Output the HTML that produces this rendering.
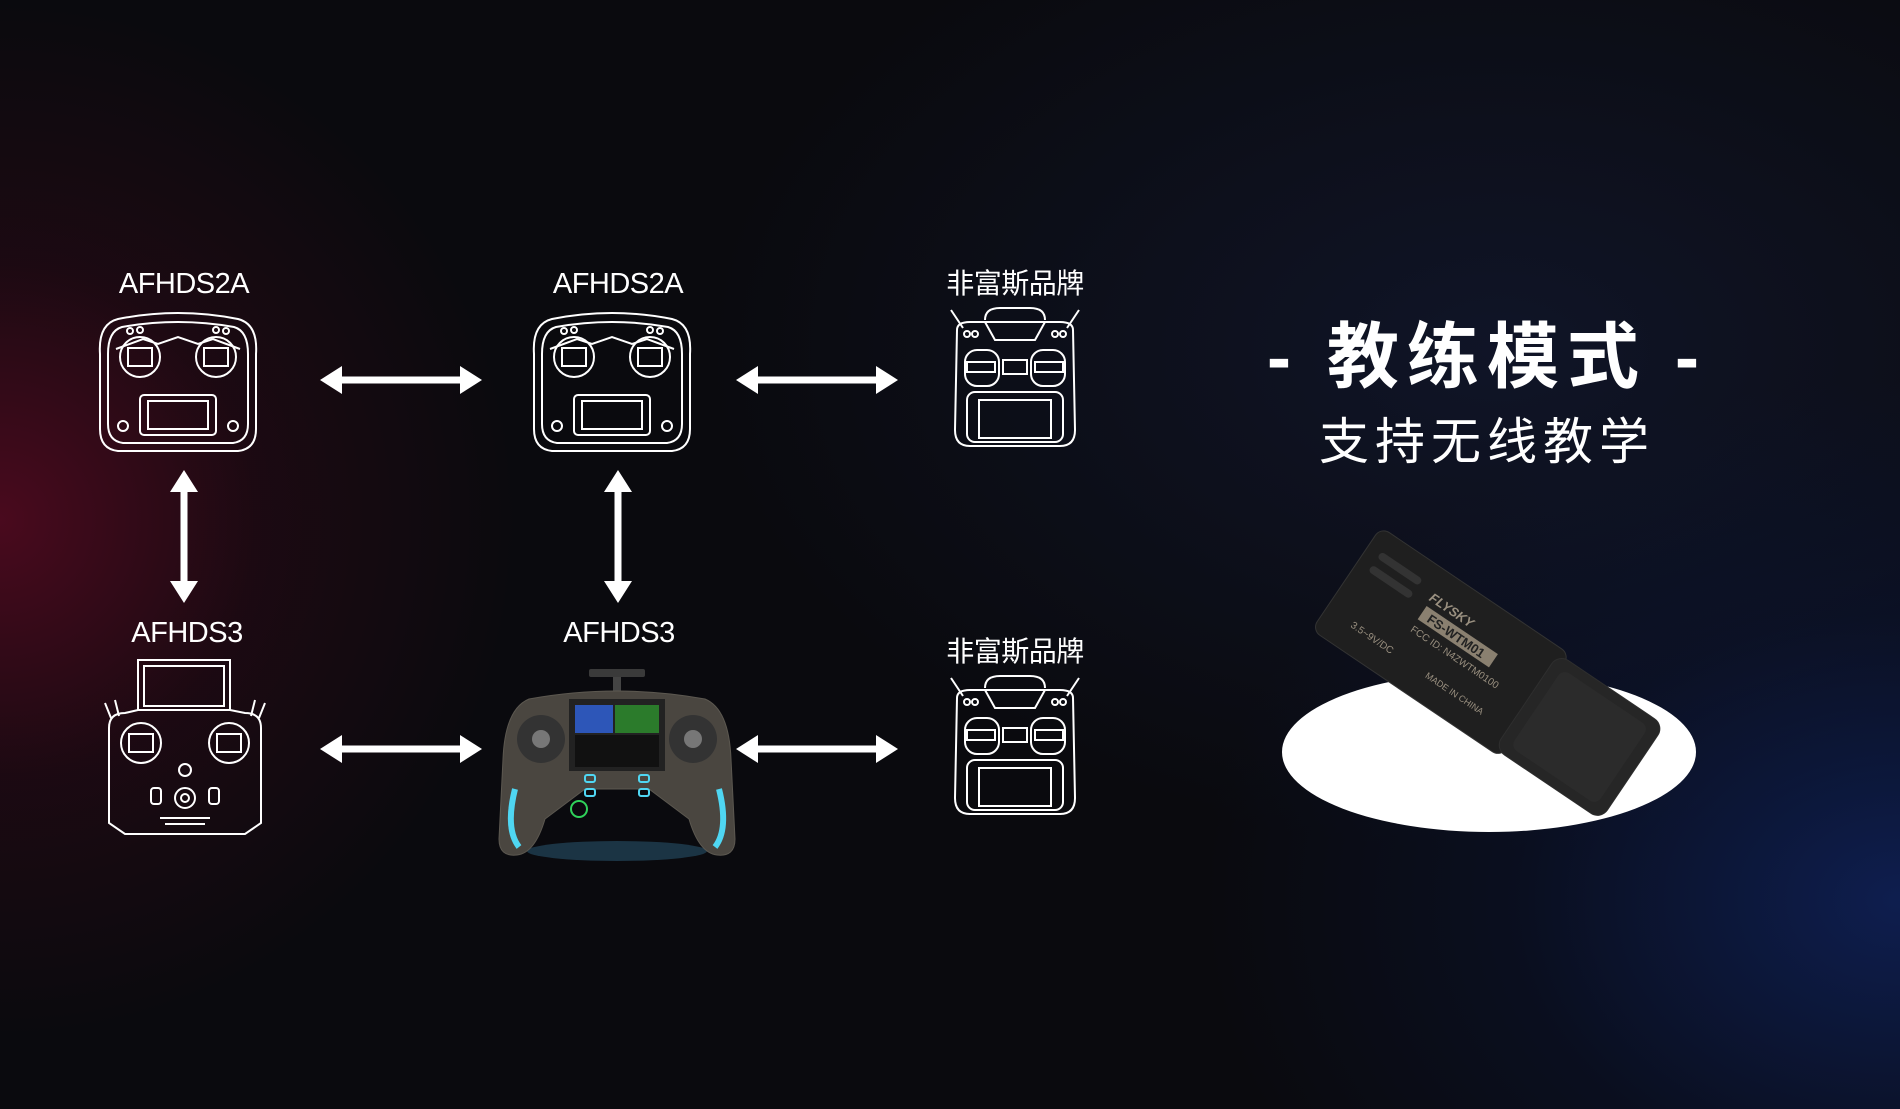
<!DOCTYPE html>
<html><head><meta charset="utf-8"><style>
html,body{margin:0;padding:0}
body{width:1900px;height:1109px;overflow:hidden;position:relative;font-family:"Liberation Sans","Noto Sans CJK SC",sans-serif;
background:
radial-gradient(ellipse 520px 520px at 0px 520px, rgba(95,10,35,0.75), rgba(60,8,25,0.35) 50%, rgba(0,0,0,0) 100%),
radial-gradient(ellipse 700px 520px at 1900px 900px, rgba(15,35,95,0.8), rgba(10,25,70,0.3) 55%, rgba(0,0,0,0) 100%),
radial-gradient(ellipse 800px 500px at 1500px 350px, rgba(18,25,50,0.7), rgba(0,0,0,0) 100%),
#0a0a0e;}
.lbl{position:absolute;color:#fff;font-size:29px;transform:translateX(-50%);white-space:nowrap;font-weight:normal;letter-spacing:-0.5px}
svg{position:absolute;left:0;top:0}
</style></head><body>
<div class="lbl" style="left:184px;top:268px">AFHDS2A</div>
<div class="lbl" style="left:618px;top:268px">AFHDS2A</div>
<div class="lbl" style="left:1015px;top:262px;font-size:28px">非富斯品牌</div>
<div class="lbl" style="left:187px;top:617px">AFHDS3</div>
<div class="lbl" style="left:619px;top:617px">AFHDS3</div>
<div class="lbl" style="left:1015px;top:630px;font-size:28px">非富斯品牌</div>
<div class="lbl" style="left:1487px;top:298px;font-size:72px;font-weight:bold;letter-spacing:8px">- 教练模式 -</div>
<div class="lbl" style="left:1487px;top:402px;font-size:50px;letter-spacing:6px">支持无线教学</div>

<svg width="1900" height="1109" viewBox="0 0 1900 1109">
<defs>
<g id="tx2a" fill="none" stroke="#fff" stroke-width="2">
<path d="M20,10 Q80,-2 140,10 Q160,15 158,45 L158,120 Q158,140 140,142 L20,142 Q2,140 2,120 L2,45 Q0,15 20,10Z"/>
<path d="M24,18 Q80,8 136,18 Q150,22 150,45 L150,115 Q150,132 135,134 L25,134 Q10,132 10,115 L10,45 Q10,22 24,18Z"/>
<path d="M18,40 L45,30 L60,35 L80,28 L100,35 L115,30 L142,40"/>
<circle cx="42" cy="48" r="20"/><circle cx="118" cy="48" r="20"/>
<rect x="30" y="39" width="24" height="18"/><rect x="106" y="39" width="24" height="18"/>
<rect x="42" y="86" width="76" height="40" rx="4"/><rect x="50" y="92" width="60" height="28"/>
<circle cx="25" cy="117" r="5"/><circle cx="135" cy="117" r="5"/>
<circle cx="32" cy="22" r="3"/><circle cx="42" cy="21" r="3"/><circle cx="118" cy="21" r="3"/><circle cx="128" cy="22" r="3"/>
</g>
<g id="txo" fill="none" stroke="#fff" stroke-width="2">
<path d="M18,28 L6,10 M122,28 L134,10"/>
<path d="M40,20 Q40,8 55,8 L85,8 Q100,8 100,20"/>
<path d="M12,30 Q12,22 25,22 L115,22 Q128,22 128,30 L130,130 Q130,146 115,146 L25,146 Q10,146 10,130Z"/>
<path d="M40,22 L50,40 L90,40 L100,22"/>
<rect x="20" y="50" width="34" height="36" rx="12"/><rect x="86" y="50" width="34" height="36" rx="12"/>
<rect x="22" y="62" width="28" height="10"/><rect x="90" y="62" width="28" height="10"/><rect x="58" y="60" width="24" height="14"/>
<rect x="22" y="92" width="96" height="50" rx="8"/><rect x="34" y="100" width="72" height="38"/>
<circle cx="22" cy="34" r="3"/><circle cx="30" cy="34" r="3"/><circle cx="110" cy="34" r="3"/><circle cx="118" cy="34" r="3"/>
</g>
<g id="harr" fill="#fff"><rect x="18" y="-3.5" width="126" height="7"/><polygon points="0,0 22,-14 22,14"/><polygon points="162,0 140,-14 140,14"/></g>
<g id="varr" fill="#fff"><rect x="-3.5" y="18" width="7" height="97" /><polygon points="0,0 -14,22 14,22"/><polygon points="0,133 -14,111 14,111"/></g>
</defs>
<use href="#tx2a" x="98" y="309"/>
<use href="#tx2a" x="532" y="309"/>
<use href="#txo" x="945" y="300"/>
<use href="#txo" x="945" y="668"/>
<use href="#harr" x="320" y="380"/><use href="#harr" x="736" y="380"/>
<use href="#harr" x="320" y="749"/><use href="#harr" x="736" y="749"/>
<use href="#varr" x="184" y="470"/><use href="#varr" x="618" y="470"/>
<g fill="none" stroke="#fff" stroke-width="2" transform="translate(105,658)">
<rect x="33" y="2" width="92" height="50"/><rect x="39" y="8" width="80" height="40"/>
<path d="M6,60 L0,45 M14,58 L10,42 M154,60 L160,45 M146,58 L150,42"/>
<path d="M4,70 Q4,55 20,55 L33,52 L125,52 L140,55 Q156,55 156,70 L156,165 L140,176 L20,176 L4,165Z"/>
<circle cx="36" cy="85" r="20"/><circle cx="124" cy="85" r="20"/>
<rect x="24" y="76" width="24" height="18"/><rect x="112" y="76" width="24" height="18"/>
<circle cx="80" cy="112" r="6"/><circle cx="80" cy="140" r="10"/><circle cx="80" cy="140" r="4"/>
<rect x="46" y="130" width="10" height="16" rx="3"/><rect x="104" y="130" width="10" height="16" rx="3"/>
<path d="M55,160 L105,160 M60,166 L100,166"/>
</g>
<g transform="translate(499,669)">
<ellipse cx="118" cy="182" rx="90" ry="10" fill="rgba(80,180,230,0.25)"/>
<rect x="90" y="0" width="56" height="8" rx="2" fill="#3a3a3a"/><rect x="114" y="8" width="8" height="18" fill="#444"/>
<path d="M30,30 Q118,14 206,30 Q230,40 232,90 L236,170 Q236,188 218,186 Q200,184 190,150 L150,120 L86,120 L46,150 Q36,184 18,186 Q0,188 0,170 L4,90 Q6,40 30,30Z" fill="#4a4640" stroke="#5c5850"/>
<rect x="70" y="30" width="96" height="72" fill="#222"/><rect x="76" y="36" width="38" height="28" fill="#2d56b8"/><rect x="116" y="36" width="44" height="28" fill="#2b7b2b"/><rect x="76" y="66" width="84" height="32" fill="#111"/>
<circle cx="42" cy="70" r="24" fill="#333"/><circle cx="194" cy="70" r="24" fill="#333"/>
<circle cx="42" cy="70" r="9" fill="#777"/><circle cx="194" cy="70" r="9" fill="#777"/>
<path d="M16,120 Q6,160 20,178" stroke="#4fd6f2" stroke-width="6" fill="none"/><path d="M220,120 Q230,160 216,178" stroke="#4fd6f2" stroke-width="6" fill="none"/>
<g fill="none" stroke="#4fd6f2" stroke-width="2"><rect x="86" y="106" width="10" height="7" rx="2"/><rect x="140" y="106" width="10" height="7" rx="2"/><rect x="86" y="120" width="10" height="7" rx="2"/><rect x="140" y="120" width="10" height="7" rx="2"/></g>
<circle cx="80" cy="140" r="8" fill="none" stroke="#2fd25a" stroke-width="2"/>
</g>
<ellipse cx="1489" cy="752" rx="207" ry="80" fill="#fff"/>
<g transform="translate(1381,527) rotate(34)">
<rect x="0" y="0" width="228" height="124" rx="10" fill="#1f1f1f" stroke="#333"/>
<rect x="218" y="6" width="128" height="114" rx="12" fill="#262626" stroke="#2e2e2e"/>
<rect x="230" y="16" width="104" height="94" rx="8" fill="#2b2b2b"/>
<rect x="14" y="20" width="50" height="8" rx="4" fill="#333"/><rect x="14" y="36" width="50" height="8" rx="4" fill="#333"/>
<rect x="82" y="40" width="86" height="16" fill="#8a8070"/>
<text x="90" y="53" font-size="13" font-weight="bold" fill="#222" font-family="Liberation Sans">FS-WTM01</text>
<text x="80" y="34" font-size="13" font-weight="bold" font-style="italic" fill="#9a9080" font-family="Liberation Sans">FLYSKY</text>
<text x="82" y="70" font-size="10" fill="#9a9080" font-family="Liberation Sans">FCC ID: N4ZWTM0100</text>
<text x="120" y="100" font-size="9" fill="#9a9080" font-family="Liberation Sans">MADE IN CHINA</text>
<text x="30" y="100" font-size="10" fill="#9a9080" font-family="Liberation Sans">3.5~9V/DC</text>
</g>
</svg>
</body></html>
